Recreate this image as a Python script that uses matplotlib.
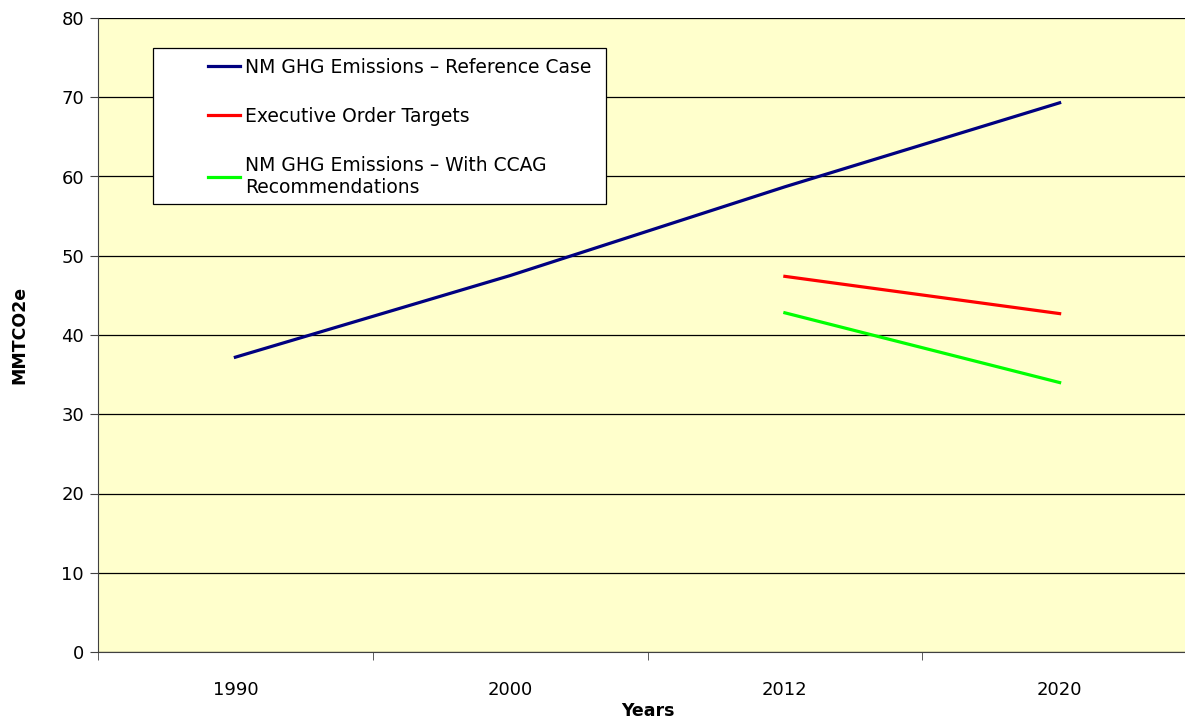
import matplotlib
matplotlib.use("Agg")
import matplotlib.pyplot as plt
import numpy as np
from matplotlib.patches import Rectangle

years = ["1990", "2000", "2012", "2020"]
reference_case = [37.2, 47.5, 58.7, 69.3]
eo_targets = [np.nan, np.nan, 47.4, 42.7]
with_ccag = [np.nan, np.nan, 42.8, 34.0]

plt.rcParams['font.family'] = ['DejaVu Sans']

fig = plt.figure(figsize=(11.85, 7.19), dpi=100)
W, H = 1185, 719
# plot area runs a little past the right edge, like the original screenshot
ax = fig.add_axes([98 / W, 1 - 652 / H, 1099 / W, 634 / H])
ax.set_facecolor('#FFFFCC')

x = np.arange(len(years))
ax.plot(x, reference_case, color='#000080', lw=2.3, label='NM GHG Emissions \u2013 Reference Case')
ax.plot(x, eo_targets, color='#FF0000', lw=2.3, label='Executive Order Targets')
ax.plot(x, with_ccag, color='#00FF00', lw=2.3,
        label='NM GHG Emissions \u2013 With CCAG\nRecommendations')

ax.set_xlim(-0.5, len(years) - 0.5)
ax.set_ylim(0, 80)
ax.set_yticks(range(0, 81, 10))
ax.yaxis.grid(True, color='black', lw=0.9)
ax.set_axisbelow(True)

ax.set_xticks(x)
ax.set_xticklabels(years)
ax.set_xticks(np.arange(-0.5, len(years), 1.0), minor=True)
ax.tick_params(axis='x', which='major', length=0, pad=21, labelsize=13)
ax.tick_params(axis='x', which='minor', length=6, color='#404040')
ax.tick_params(axis='y', length=6, color='#404040', labelsize=13, pad=4)

for s in ['top', 'right']:
    ax.spines[s].set_visible(False)
ax.spines['left'].set_color('#404040')
ax.spines['bottom'].set_color('#404040')

ax.set_xlabel('Years', fontsize=12.5, fontweight='bold', labelpad=2)
ax.set_ylabel('MMTCO2e', fontsize=12.5, fontweight='bold', labelpad=24)

# legend box drawn by hand (wide left padding as in the original)
box = Rectangle((153 / W, 1 - 204 / H), 453 / W, 156 / H, transform=fig.transFigure,
                facecolor='white', edgecolor='black', lw=0.9, zorder=5, clip_on=False)
ax.add_patch(box)
leg = ax.legend(loc='upper left', bbox_to_anchor=(191 / W, 1 - 41 / H),
                bbox_transform=fig.transFigure, frameon=False, fontsize=13.5,
                handlelength=1.7, handletextpad=0.27, labelspacing=1.6)
leg.set_zorder(6)

fig.savefig('out.png', dpi=100)
